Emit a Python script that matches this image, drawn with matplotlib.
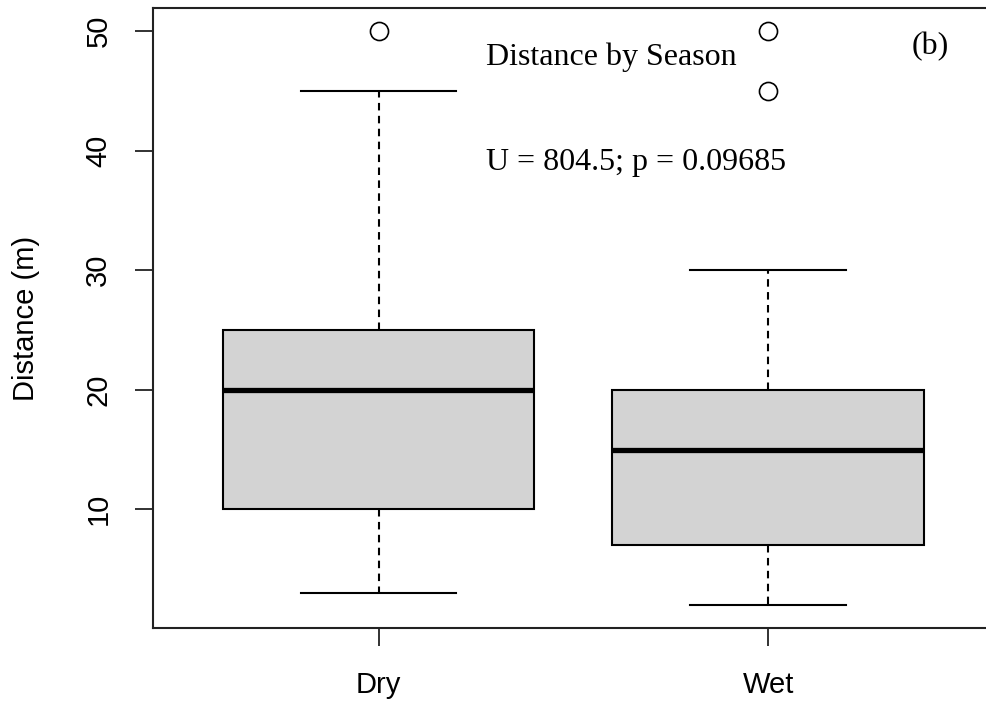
import matplotlib
matplotlib.use("Agg")
import matplotlib.pyplot as plt

plt.rcParams['font.family'] = ['Liberation Sans', 'DejaVu Sans']

# five-number summaries per season (m)
seasons = ['Dry', 'Wet']
whisker_low = [3, 2]
q1 = [10, 7]
medians = [20, 15]
q3 = [25, 20]
whisker_high = [45, 30]
outliers = [[50], [50, 45]]

stats = []
for i, name in enumerate(seasons):
    stats.append({'label': name, 'whislo': whisker_low[i], 'q1': q1[i], 'med': medians[i],
                  'q3': q3[i], 'whishi': whisker_high[i], 'fliers': outliers[i]})

fig = plt.figure(figsize=(9.87, 7.06), dpi=100)
ax = fig.add_axes([0.1546, 0.1105, 0.8525, 0.8782])

ax.bxp(stats, positions=[1, 2], widths=0.8, patch_artist=True,
       boxprops=dict(facecolor='#d3d3d3', edgecolor='black', linewidth=1.5),
       medianprops=dict(color='black', linewidth=3.8, solid_capstyle='butt'),
       whiskerprops=dict(color='black', linewidth=1.5, linestyle=(0, (3.6, 2.6))),
       capprops=dict(color='black', linewidth=1.5),
       flierprops=dict(marker='o', markerfacecolor='none', markeredgecolor='black',
                       markersize=13, markeredgewidth=1.2))

ax.set_xlim(0.42, 2.58)
ax.set_ylim(0.08, 51.92)
ax.set_yticks([10, 20, 30, 40, 50])
ax.set_xticks([1, 2])
ax.set_xticklabels(seasons)
ax.tick_params(axis='both', direction='out', length=13, width=1.3, labelsize=21, color='#222222')
ax.tick_params(axis='x', pad=18)
ax.tick_params(axis='y', pad=16)
for lab in ax.get_yticklabels():
    lab.set_rotation(90)
    lab.set_va('center')
for s in ax.spines.values():
    s.set_linewidth(1.5)
    s.set_color('#222222')

ax.set_ylabel('Distance (m)', fontsize=21, labelpad=32)

serif = ['Liberation Serif', 'DejaVu Serif']
ax.text(1.597, 47.8, 'Distance by Season', family=serif, fontsize=23, ha='center', va='center')
ax.text(1.662, 39.0, 'U = 804.5; p = 0.09685', family=serif, fontsize=23, ha='center', va='center')
ax.text(2.416, 48.7, '(b)', family=serif, fontsize=23, ha='center', va='center')

fig.savefig('out.png', dpi=100)
